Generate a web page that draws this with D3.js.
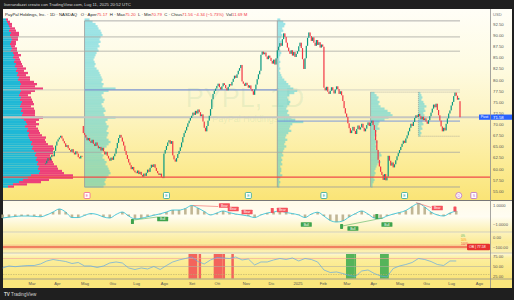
<!DOCTYPE html>
<html>
<head>
<meta charset="utf-8">
<script src="https://cdn.jsdelivr.net/npm/d3@7"></script>
<style>
html, body { margin: 0; padding: 0; background: #1f1f1f; }
svg { display: block; font-family: "Liberation Sans", Arial, sans-serif; }
</style>
</head>
<body>
<svg id="chart" width="514" height="300"></svg>
<script>
// ---- data ----
const holidays = ["2024-03-29","2024-05-27","2024-06-19","2024-07-04","2024-09-02","2024-11-28","2024-12-25",
  "2025-01-01","2025-01-09","2025-01-20","2025-02-17","2025-04-18","2025-05-26","2025-06-19","2025-07-04"];
const firstBar = "2024-03-18";

// daily closes, one row per month
const closes = [
  61.2,61.8,62.4,61.9,62.6,63.1,62.8,64.0,65.2,
  66.1,66.6,67.0,67.4,66.8,66.2,65.7,64.9,65.3,64.6,64.2,63.8,64.4,63.6,63.2,63.9,63.4,62.6,62.3,62.9,62.7,68.0,
  67.6,67.0,66.4,66.9,66.2,65.8,66.5,65.6,65.1,65.9,65.2,64.6,64.9,64.1,64.7,63.9,63.2,63.8,62.9,62.3,61.8,62.5,
  62.0,62.8,63.4,64.6,65.8,66.9,67.6,67.0,66.1,65.2,64.0,63.1,62.2,61.4,60.8,59.9,60.4,59.6,59.2,
  59.0,59.6,58.8,59.3,58.6,58.2,58.9,58.4,59.1,59.8,59.3,60.2,60.9,60.4,61.0,60.2,59.5,59.0,58.6,58.9,58.1,57.9,
  63.4,64.2,65.1,65.9,66.4,65.6,66.2,63.0,62.1,61.6,62.4,63.3,64.0,64.8,65.9,67.1,68.0,68.6,69.4,70.2,70.8,71.4,
  71.9,72.6,72.1,73.0,72.4,73.3,72.7,71.8,72.2,70.6,69.2,68.4,69.6,70.8,71.9,73.4,75.6,76.8,77.5,78.0,
  78.6,79.1,78.3,77.8,78.5,79.2,78.8,78.1,77.6,78.4,79.0,78.7,79.5,80.2,80.9,80.4,81.2,82.0,82.6,83.3,79.6,79.1,78.6,
  79.3,78.8,78.2,78.7,77.9,77.4,76.6,77.8,78.9,80.1,81.2,82.0,85.6,86.3,85.7,86.1,85.2,84.6,85.4,84.9,
  84.2,83.6,84.5,83.4,84.8,86.6,87.4,88.2,87.6,89.1,90.4,89.6,88.3,87.2,86.4,85.8,86.6,85.4,86.2,85.1,85.8,
  86.4,87.5,88.3,87.1,84.6,82.4,84.8,87.6,89.4,90.6,89.8,88.7,89.5,88.3,87.6,88.9,87.8,88.4,87.2,87.9,
  87.4,78.2,77.6,78.4,77.3,76.8,77.5,78.3,77.6,76.9,77.8,78.5,77.9,76.8,77.4,76.5,75.2,73.6,72.4,
  71.6,70.2,69.1,68.0,68.6,69.4,68.5,67.8,68.9,69.7,68.8,69.3,70.1,69.2,68.4,69.0,69.8,70.4,69.6,70.3,70.8,
  69.8,68.7,66.4,64.2,62.0,60.5,59.3,58.6,57.5,58.8,57.4,58.2,62.9,61.8,60.7,61.4,60.3,61.0,61.9,62.8,63.5,
  64.2,64.9,65.6,66.3,65.8,66.8,67.5,68.4,69.2,70.1,69.6,70.5,71.4,72.0,71.6,72.3,71.8,71.1,71.7,70.9,71.3,
  70.6,70.1,70.9,71.8,72.6,73.5,74.4,73.8,74.6,73.2,72.0,70.8,69.5,68.4,69.2,68.6,70.1,71.3,72.4,73.1,
  74.2,75.0,76.3,77.1,76.4,75.5,75.9,71.56
];
const gapIdx = [30, 329];
const gapOpen = [69.6, 75.17];

const priceTicks = [92.5,90,87.5,85,82.5,80,77.5,75,72.5,70,67.5,65,62.5,60,57.5,55];
const tickMonths = ["2024-03","2024-04","2024-05","2024-06","2024-07","2024-08","2024-09","2024-10","2024-11","2024-12",
  "2025-01","2025-02","2025-03","2025-04","2025-05","2025-06","2025-07","2025-08"];
const tickLabels = ["Mar","Apr","Mag","Giu","Lug","Ago","Set","Ott","Nov","Dic","2025","Feb","Mar","Apr","Mag","Giu","Lug","Ago"];

// volume profiles (rows of 0.5 from the top level down)
const vpLeftUp = [3,4,5,6,7,6,8,7,8,9, 8,7,8,9,8,10,11,10,12,11, 13,12,14,13,15,14,16,15,17,18,
  17,17,18,17,16,18,17,19,18,17, 19,18,20,19,18,21,23,24,22,25, 24,26,25,26,27,29,28,30,29,31,
  33,32,34,33,35,34,36,35,37,36, 28,25,20,16,10,5];
const vpLeftDown = [2,3,4,3,5,7,8,9,7,6, 5,6,4,5,6,5,7,6,5,7, 6,8,9,8,10,9,11,12,14,16,
  15,23,14,11,9,10,12,11,13,11, 12,14,12,13,22,15,10,12,11,10, 12,11,14,17,15,14,17,20,22,19,
  17,15,14,16,15,17,18,20,22,25, 42,45,26,22,14,6];
const vp1 = [5,8,11,13,14,16,17,18,16,15, 16,14,15,13,14,12,11,10,9,10, 11,10,12,14,15,16,17,18,17,19,
  18,31,24,19,17,18,20,19,17,18, 20,21,19,20,31,23,21,22,24,23, 22,24,23,22,24,26,24,22,20,18,
  17,19,18,20,22,21,23,24,25,26, 24,22,21,20,21,19];
const vp2 = [3,6,8,7,5,6,4,5,4,3, 4,3,3,2,3,4,3,2,2,3, 2,2,3,2,3,4,5,7,9,11,
  13,16,20,17,12,10,11,13,12,10, 9,11,10,12,14,18,26,15,13,12, 14,11,9,8,10,8,7,9,7,6,
  5,6,4,5,4,5,3,4,4,3, 5,3,2,3,2,2];
const vp3 = [4,6,8,7,9,8,10,14,17,20, 22,18,14,9,8,7,9,6,5,6, 4,5,7,5,6,5,8,10,11,9,
  8,10,7,6,5,4,5,4,3,4, 3,2,2];
const vp4 = [2,3,4,3,5,6,8,6,7,5, 6,7,5,4,5,3,4,2,3,2];
const vpTop = [93.5, 93.5, 93.5, 77, 77];
const vpStart = [31, 184, 258, 296];   // bar index where each fixed-range profile starts
const boxHigh = 93.2, boxLow = 55.9, boxEnd = 329;

const levelGray = [89.6, 86.4, 63.7];
const poc1 = 77.7, poc2 = 70.7, pivot = 71.58, support = 58.1;

// event markers under the price pane
const eventIdx = [33, 96, 161, 221, 285, 328, 340];
const eventKind = ["neg","pos","pos","pos","pos","div","split"];

// oscillator + RSI, one value every 5 bars starting at bar -34
const indStart = -34, indStep = 5;
const osc = [-0.37,-0.28,-0.21,-0.16,-0.16,-0.19,-0.24,-0.05,0.26,0.58,0.26,-0.32,-0.32,-0.1,0.1,0,-0.26,-0.37,0,0.26,
  -0.16,-0.47,-0.4,-0.24,-0.08,0.07,0.26,0.47,0.47,0.63,0.95,0.68,0.32,-0.05,0.16,0.37,0.19,0.05,-0.05,-0.16,
  -0.32,-0.05,0.16,0.26,0.37,0.21,0.1,-0.05,-0.32,0.05,0.24,-0.16,-0.63,-0.79,-0.68,-0.26,0.1,0.37,0.05,-0.37,
  -0.42,-0.16,0.05,0.21,0.42,0.84,1.16,0.79,0.26,-0.05,-0.16,0.16,0.37];
const rsi = [46.3,51.3,49.5,51.3,52.5,52.5,56.3,63.8,67.5,65,62.5,57.5,60,51.3,51.3,47.5,51.3,58.8,61.3,58.8,
  46.3,42.5,46.3,43.8,50,42.5,52.5,61.3,66.3,70,73.8,62.5,56.3,66.3,72.5,71.3,70,73.8,66.3,68.8,
  53.8,61.3,61.3,66.3,70,67.5,71.3,63.8,70,67.5,61.3,41.3,35,36.3,32.5,27.5,25,38.8,41.3,32.5,
  26.3,23.8,45,51.3,55,60,70,67.5,62.5,55,52.5,63.8,63.8];
const rsiHot = [[114,120],[122,123],[134,140],[141,142],[148,149]];
const rsiCold = [[239,245],[246,246],[266,272]];

// divergence labels in the oscillator: [bar index, value, text]
const bearLabels = [[142,0.95,"Bear"],[149,0.58,"Bear"],[160,0.26,"Bear"],[180,0.42,""],[188,0.47,"Bear"],[311,0.68,"Bear"],[325,0.58,""]];
const bullLabels = [[69,-0.74,""],[93,-0.47,"Bull"],[207,-1.05,"Bull"],[235,-1.26,""],[244,-1.47,"Bull"],[263,-0.21,""],[271,-1.05,"Bull"]];
const bearLines = [[[117,0.95],[137,0.84]],[[294,1.26],[306,0.74]]];
const bullLines = [[[70,-0.58],[89,-0.26]],[[236,-1.2],[268,-0.37]]];

// ---- layout ----
const svg = d3.select("#chart");
const L = 3, R = 490, AX = 512;
const P = { top: 9, priceBot: 200, oscTop: 201, oscBot: 232, midBot: 253, rsiBot: 279, axBot: 288 };
const red = "#f23645", green = "#089981";

// trading calendar
const hol = new Set(holidays);
const cal = [];
for (let d = new Date("2024-03-01T12:00:00Z"); d <= new Date("2025-08-29T12:00:00Z"); d.setUTCDate(d.getUTCDate() + 1)) {
  const s = d.toISOString().slice(0, 10);
  if (d.getUTCDay() > 0 && d.getUTCDay() < 6 && !hol.has(s)) cal.push(s);
}
const base = cal.indexOf(firstBar);

const x = d3.scaleLinear().domain([0, closes.length - 1]).range([45.5, 460]);
const y = d3.scaleLinear().domain([55, 92.5]).range([191, 24]);
const yo = d3.scaleLinear().domain([-1, 1]).range([224, 205]);
const ym = d3.scaleLinear().domain([-100, 0]).range([247, 237]);
const yr = d3.scaleLinear().domain([25, 75]).range([276.5, 256.5]);
const vw = d3.scaleLinear().domain([0, 10]).range([0, 10]);

const defs = svg.append("defs");
function grad(id, stops) {
  const g = defs.append("linearGradient").attr("id", id).attr("x1", 0).attr("x2", 0).attr("y1", 0).attr("y2", 1);
  stops.forEach(s => g.append("stop").attr("offset", s[0]).attr("stop-color", s[1]));
}
grad("gPrice", [[0, "#fffef7"], [0.3, "#fefbe2"], [0.55, "#fdf4c2"], [0.8, "#fcec98"], [1, "#fae476"]]);
grad("gOsc", [[0, "#fffbe8"], [0.5, "#fffdf2"], [1, "#fcf0b0"]]);
grad("gMid", [[0, "#fdf3bd"], [0.5, "#fbeb99"], [1, "#fcf1b4"]]);
grad("gRsi", [[0, "#fef8d8"], [0.2, "#fcef9e"], [1, "#fae47a"]]);
defs.append("clipPath").attr("id", "cPrice").append("rect").attr("x", L).attr("y", P.top).attr("width", R - L).attr("height", P.priceBot - P.top);

// frame + pane backgrounds
svg.append("rect").attr("width", 514).attr("height", 300).attr("fill", "#1f1f1f");
svg.append("rect").attr("x", L).attr("y", P.top).attr("width", AX - L).attr("height", P.priceBot - P.top).attr("fill", "url(#gPrice)");
svg.append("rect").attr("x", L).attr("y", P.oscTop).attr("width", AX - L).attr("height", P.oscBot - P.oscTop).attr("fill", "url(#gOsc)");
svg.append("rect").attr("x", L).attr("y", P.oscBot).attr("width", AX - L).attr("height", P.midBot - P.oscBot).attr("fill", "url(#gMid)");
svg.append("rect").attr("x", L).attr("y", P.midBot).attr("width", AX - L).attr("height", P.rsiBot - P.midBot).attr("fill", "url(#gRsi)");
svg.append("rect").attr("x", L).attr("y", P.rsiBot).attr("width", AX - L).attr("height", P.axBot - P.rsiBot).attr("fill", "#fae67c");

// header
svg.append("text").attr("x", 4).attr("y", 6.3).attr("font-size", 4.3).attr("fill", "#d6d6d6")
  .text("liverandazzi creato con TradingView.com, Lug 11, 2025 20:52 UTC");
svg.append("text").attr("x", 4).attr("y", 296).attr("font-size", 4.6).attr("fill", "#d6d6d6").attr("font-weight", "bold")
  .text("TV").append("tspan").attr("font-weight", "normal").text(" TradingView");

// watermark
svg.append("text").attr("x", 245).attr("y", 107).attr("text-anchor", "middle").attr("font-size", 27)
  .attr("fill", "rgba(60,160,110,0.10)").text("PYPL, 1D");
svg.append("text").attr("x", 255).attr("y", 122).attr("text-anchor", "middle").attr("font-size", 9)
  .attr("fill", "rgba(60,160,110,0.12)").text("PayPal Holdings, Inc.");

const gp = svg.append("g").attr("clip-path", "url(#cPrice)");
const levels = top => vp => vp.map((v, i) => ({ p: top - i * 0.5, v }));
const rowH = y(0) - y(0.5);

// left (visible range) volume profile
const leftRows = levels(vpTop[0])(vpLeftUp).map((r, i) => ({ p: r.p, up: r.v, dn: vpLeftDown[i] }));
gp.append("g").selectAll("rect").data(leftRows).join("rect")
  .attr("x", L).attr("y", d => y(d.p + 0.25)).attr("height", rowH + 0.05)
  .attr("width", d => vw(d.up)).attr("fill", "#1fb8d6");
gp.append("g").selectAll("rect").data(leftRows).join("rect")
  .attr("x", d => L + vw(d.up)).attr("y", d => y(d.p + 0.25)).attr("height", rowH + 0.05)
  .attr("width", d => vw(d.dn)).attr("fill", "#ec407a");

// fixed range profiles
[vp1, vp2, vp3, vp4].forEach((vp, k) => {
  gp.append("g").selectAll("rect").data(levels(vpTop[k + 1])(vp)).join("rect")
    .attr("x", x(vpStart[k])).attr("y", d => y(d.p + 0.25)).attr("height", rowH + 0.05)
    .attr("width", d => vw(d.v)).attr("fill", "rgba(38,198,218,0.45)");
});

// range boxes
const box = gp.append("g").attr("fill", "none");
box.append("line").attr("x1", x(vpStart[0])).attr("x2", x(boxEnd)).attr("y1", y(boxHigh)).attr("y2", y(boxHigh)).attr("stroke", "#9a9a9a").attr("stroke-width", 0.8);
box.append("line").attr("x1", x(vpStart[0])).attr("x2", x(boxEnd)).attr("y1", y(boxLow)).attr("y2", y(boxLow)).attr("stroke", "#9a9a9a").attr("stroke-width", 0.8);
[vpStart[0], vpStart[1]].forEach(i => box.append("line").attr("x1", x(i)).attr("x2", x(i)).attr("y1", y(boxHigh)).attr("y2", y(boxLow)).attr("stroke", "#9a9a9a").attr("stroke-width", 0.8));
box.append("line").attr("x1", x(vpStart[2])).attr("x2", x(vpStart[2])).attr("y1", y(77.2)).attr("y2", y(boxLow)).attr("stroke", "#9a9a9a").attr("stroke-width", 0.7);
box.append("line").attr("x1", x(vpStart[2])).attr("x2", x(boxEnd)).attr("y1", y(77.2)).attr("y2", y(77.2)).attr("stroke", "#8a8a8a").attr("stroke-width", 0.6).attr("stroke-dasharray", "1,1");
box.append("line").attr("x1", x(vpStart[3])).attr("x2", x(boxEnd)).attr("y1", y(67.3)).attr("y2", y(67.3)).attr("stroke", "#8a8a8a").attr("stroke-width", 0.6).attr("stroke-dasharray", "1,1");
box.append("line").attr("x1", x(vpStart[3])).attr("x2", x(vpStart[3])).attr("y1", y(77.2)).attr("y2", y(67.3)).attr("stroke", "#8a8a8a").attr("stroke-width", 0.6).attr("stroke-dasharray", "1,1");

// horizontal levels
levelGray.forEach(p => gp.append("line").attr("x1", L).attr("x2", x(boxEnd)).attr("y1", y(p)).attr("y2", y(p)).attr("stroke", "#a8a8a2").attr("stroke-width", 0.8));
gp.append("line").attr("x1", L).attr("x2", x(boxEnd)).attr("y1", y(poc1)).attr("y2", y(poc1)).attr("stroke", "#c9c9c0").attr("stroke-width", 0.8);
gp.append("line").attr("x1", x(vpStart[0])).attr("x2", x(vpStart[1])).attr("y1", y(poc1)).attr("y2", y(poc1)).attr("stroke", "#5b7fd6").attr("stroke-width", 0.9);
gp.append("line").attr("x1", L).attr("x2", 480).attr("y1", y(pivot)).attr("y2", y(pivot)).attr("stroke", "#c6c6c0").attr("stroke-width", 2);
gp.append("line").attr("x1", x(vpStart[1])).attr("x2", x(boxEnd)).attr("y1", y(poc2)).attr("y2", y(poc2)).attr("stroke", "#6d8fe0").attr("stroke-width", 0.9);

// candles
const gapMap = new Map(gapIdx.map((g, k) => [g, gapOpen[k]]));
const bars = closes.map((c, i) => ({ i, c, o: gapMap.has(i) ? gapMap.get(i) : (i ? closes[i - 1] : c) }));
gp.append("g").selectAll("rect").data(bars).join("rect")
  .attr("x", d => x(d.i) - 0.6).attr("width", 1.2)
  .attr("y", d => y(Math.max(d.o, d.c)))
  .attr("height", d => Math.max(0.9, Math.abs(y(d.o) - y(d.c))))
  .attr("fill", d => d.c >= d.o ? green : red);

// support line
svg.append("line").attr("x1", L).attr("x2", R).attr("y1", y(support)).attr("y2", y(support)).attr("stroke", "#ef4a4a").attr("stroke-width", 1.3);

// legend
const lg = svg.append("text").attr("x", 5).attr("y", 15.5).attr("font-size", 4.3).attr("fill", "#222");
[["PayPal Holdings, Inc. · 1D · NASDAQ   O · Aper", "#222"], ["75.17", red], ["  H · Max", "#222"], ["75.20", red],
 ["  L · Min", "#222"], ["70.79", red], ["  C · Chius", "#222"], ["71.56 −4.34 (−5.73%)", red], ["  Vol", "#222"], ["11.69 M", red]]
  .forEach(s => lg.append("tspan").attr("fill", s[1]).attr("xml:space", "preserve").text(s[0]));

// event markers
const ev = svg.append("g");
eventIdx.forEach((i, k) => {
  const cx = x(i), kind = eventKind[k];
  const col = kind === "neg" ? "#f06292" : kind === "pos" ? "#26a69a" : "#ba68c8";
  if (kind === "div") {
    ev.append("circle").attr("cx", cx).attr("cy", 195.5).attr("r", 3).attr("fill", "#fff").attr("stroke", col).attr("stroke-width", 0.8);
  } else {
    ev.append("rect").attr("x", cx - 3).attr("y", 192.5).attr("width", 6).attr("height", 6).attr("rx", 1)
      .attr("fill", "#fff").attr("stroke", col).attr("stroke-width", 0.8);
  }
  ev.append("text").attr("x", cx).attr("y", 197).attr("text-anchor", "middle").attr("font-size", 3.6).attr("fill", col)
    .text(kind === "split" ? "S" : kind === "div" ? "D" : "E");
});

// pivot label and price axis
svg.append("rect").attr("x", 479).attr("y", y(pivot) - 2.6).attr("width", 11).attr("height", 5.2).attr("fill", "#2962ff");
svg.append("text").attr("x", 484.5).attr("y", y(pivot) + 1.3).attr("text-anchor", "middle").attr("font-size", 3.4).attr("fill", "#fff").text("Pivot");
const axP = svg.append("g").attr("transform", `translate(${R},0)`)
  .call(d3.axisRight(y).tickValues(priceTicks).tickFormat(d3.format(".2f")).tickSize(0).tickPadding(3));
axP.select(".domain").remove();
axP.selectAll("text").attr("font-size", 4.3).attr("fill", "#555").attr("font-family", "Liberation Sans, Arial");
svg.append("text").attr("x", R + 3).attr("y", 16).attr("font-size", 4.1).attr("fill", "#777").text("USD");
svg.append("rect").attr("x", R).attr("y", y(pivot) - 2.6).attr("width", AX - R).attr("height", 5.2).attr("fill", "#2962ff");
svg.append("text").attr("x", R + 3).attr("y", y(pivot) + 1.5).attr("font-size", 4.3).attr("fill", "#fff").text(d3.format(".2f")(pivot));

// oscillator pane
const xi = k => x(indStart + k * indStep);
const go = svg.append("g");
go.selectAll("rect").data(osc).join("rect")
  .attr("x", (d, k) => xi(k) - 1.3).attr("width", 2.6)
  .attr("y", d => Math.min(yo(0), yo(d))).attr("height", d => Math.abs(yo(d) - yo(0)))
  .attr("fill", "#b6a985").attr("opacity", 0.85);
go.append("path").datum(osc).attr("fill", "none").attr("stroke", "#26bcd6").attr("stroke-width", 0.8)
  .attr("d", d3.line().x((d, k) => xi(k)).y(d => yo(d)).curve(d3.curveMonotoneX));
bearLines.forEach(s => go.append("line").attr("x1", x(s[0][0])).attr("y1", yo(s[0][1])).attr("x2", x(s[1][0])).attr("y2", yo(s[1][1])).attr("stroke", "#f06060").attr("stroke-width", 0.6));
bullLines.forEach(s => go.append("line").attr("x1", x(s[0][0])).attr("y1", yo(s[0][1])).attr("x2", x(s[1][0])).attr("y2", yo(s[1][1])).attr("stroke", "#56b35a").attr("stroke-width", 0.6));
function tag(list, col) {
  list.forEach(t => {
    const w = t[2] ? 11 : 3, h = t[2] ? 4.6 : 5;
    go.append("rect").attr("x", x(t[0]) - w / 2).attr("y", yo(t[1]) - h / 2).attr("width", w).attr("height", h).attr("rx", 0.6).attr("fill", col);
    if (t[2]) go.append("text").attr("x", x(t[0])).attr("y", yo(t[1]) + 1.2).attr("text-anchor", "middle").attr("font-size", 3.2).attr("fill", "#fff").text(t[2]);
  });
}
tag(bearLabels, "#f5525c");
tag(bullLabels, "#3fa34d");
const axO = svg.append("g").attr("transform", `translate(${R},0)`)
  .call(d3.axisRight(yo).tickValues([1, -1]).tickFormat(d3.format(".4f")).tickSize(0).tickPadding(3));
axO.select(".domain").remove();
axO.selectAll("text").attr("font-size", 4.1).attr("fill", "#555");

// middle pane
svg.append("rect").attr("x", L).attr("y", ym(-100) - 2.5).attr("width", R - L).attr("height", 5).attr("fill", "rgba(240,70,60,0.18)");
svg.append("line").attr("x1", L).attr("x2", R).attr("y1", ym(-100)).attr("y2", ym(-100)).attr("stroke", "#e8322f").attr("stroke-width", 1.2);
const axM = svg.append("g").attr("transform", `translate(${R},0)`)
  .call(d3.axisRight(ym).tickValues([0, -100]).tickFormat(d3.format(".2f")).tickSize(0).tickPadding(3));
axM.select(".domain").remove();
axM.selectAll("text").attr("font-size", 4.1).attr("fill", "#555");
[["0%", "#4caf50", 236.5], ["50%", "#ff9800", 240.5], ["100%", "#f23645", 245]].forEach(t =>
  svg.append("text").attr("x", 461).attr("y", t[2]).attr("font-size", 2.8).attr("fill", t[1]).text(t[0]));
svg.append("rect").attr("x", 467).attr("y", ym(-100) - 3.3).attr("width", 23).attr("height", 6.6).attr("rx", 1).attr("fill", "#e8322f");
svg.append("text").attr("x", 469).attr("y", ym(-100) + 1.3).attr("font-size", 3.5).attr("fill", "#fff").text("OB | 77.58");

// RSI pane
const gr = svg.append("g");
rsiHot.forEach(s => gr.append("rect").attr("x", x(s[0] - 0.5)).attr("width", x(s[1] + 0.5) - x(s[0] - 0.5)).attr("y", P.midBot + 1).attr("height", P.rsiBot - P.midBot - 1.5).attr("fill", "#f3645c"));
rsiCold.forEach(s => gr.append("rect").attr("x", x(s[0] - 0.5)).attr("width", x(s[1] + 0.5) - x(s[0] - 0.5)).attr("y", P.midBot + 1).attr("height", P.rsiBot - P.midBot - 1.5).attr("fill", "#55b45a"));
gr.append("line").attr("x1", L).attr("x2", R).attr("y1", yr(70)).attr("y2", yr(70)).attr("stroke", "#f2a0a0").attr("stroke-width", 0.6);
gr.append("line").attr("x1", L).attr("x2", R).attr("y1", yr(50)).attr("y2", yr(50)).attr("stroke", "#b3b0a0").attr("stroke-width", 0.6);
gr.append("line").attr("x1", L).attr("x2", R).attr("y1", yr(30)).attr("y2", yr(30)).attr("stroke", "#b7ad6e").attr("stroke-width", 0.6).attr("stroke-dasharray", "1.5,1");
gr.append("path").datum(rsi).attr("fill", "none").attr("stroke", "#5ea9e6").attr("stroke-width", 0.7)
  .attr("d", d3.line().x((d, k) => xi(k)).y(d => yr(d)));
const axR = svg.append("g").attr("transform", `translate(${R},0)`)
  .call(d3.axisRight(yr).tickValues([75, 50, 25]).tickFormat(d3.format(".2f")).tickSize(0).tickPadding(3));
axR.select(".domain").remove();
axR.selectAll("text").attr("font-size", 4.1).attr("fill", "#555");

// time axis
const tickIdx = tickMonths.map(m => cal.findIndex(s => s.startsWith(m)) - base);
const axX = svg.append("g").attr("transform", `translate(0,${P.rsiBot})`)
  .call(d3.axisBottom(x).tickValues(tickIdx).tickFormat((d, k) => tickLabels[k]).tickSize(0).tickPadding(3.5));
axX.select(".domain").remove();
axX.selectAll("text").attr("font-size", 4.1).attr("fill", "#555");

// separators
const sep = svg.append("g").attr("stroke-width", 0.8);
[[P.priceBot + 0.5, "#8e8e8e"], [P.oscBot, "#c8c8c0"], [P.midBot, "#bdbdb5"], [P.rsiBot, "#8e8e8e"]].forEach(s =>
  sep.append("line").attr("x1", L).attr("x2", AX).attr("y1", s[0]).attr("y2", s[0]).attr("stroke", s[1]));
sep.append("line").attr("x1", R + 0.5).attr("x2", R + 0.5).attr("y1", P.top).attr("y2", P.axBot).attr("stroke", "#8e8e8e");
</script>
</body>
</html>
